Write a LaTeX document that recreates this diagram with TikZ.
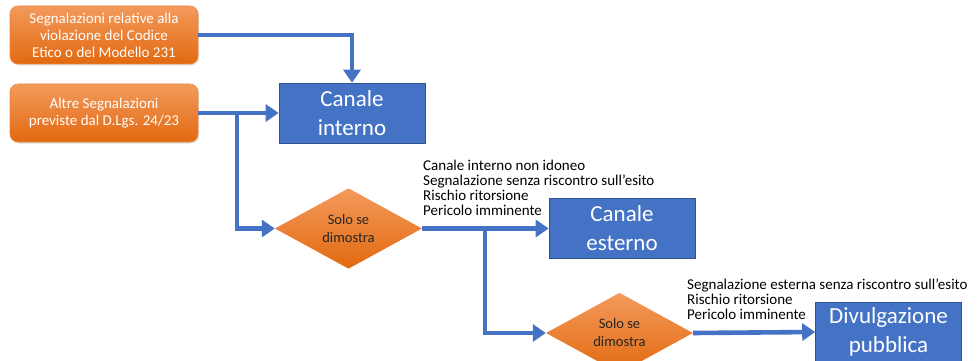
\documentclass[tikz,border=0pt]{standalone}
\usepackage{fontspec}
\setmainfont{Carlito}
\usepackage{xcolor}
\usepackage{tikz}
\usetikzlibrary{positioning,calc,shapes.geometric,arrows.meta,shadows}

\definecolor{flussoblu}{HTML}{4472C4}
\definecolor{bordoblu}{HTML}{2F528F}
\definecolor{aranciochiaro}{HTML}{F39A5C}
\definecolor{aranciocupo}{HTML}{E2690F}

\begin{document}
\begin{tikzpicture}[x=1pt,y=-1pt,
	segbox/.style={rounded corners=8pt, top color=aranciochiaro, bottom color=aranciocupo,
		draw=aranciocupo!80!white, line width=0.6pt, text=white, align=center,
		minimum width=188pt, minimum height=58pt, inner sep=2pt,
		font=\fontsize{15}{17}\selectfont,
		drop shadow={opacity=0.25, shadow xshift=1.2pt, shadow yshift=-1.5pt}},
	canalebox/.style={fill=flussoblu, draw=bordoblu, line width=0.6pt, text=white, align=center,
		minimum width=146pt, minimum height=60pt, inner sep=2pt,
		font=\fontsize{23}{29}\selectfont},
	scelta/.style={diamond, top color=aranciochiaro, bottom color=aranciocupo,
		align=center, inner sep=0pt, minimum width=147pt, minimum height=54pt,
		font=\fontsize{14.5}{18}\selectfont, text=black!85},
	motivi/.style={align=left, inner sep=0pt, anchor=west,
		font=\fontsize{15}{15}\selectfont},
	flusso/.style={draw=flussoblu, line width=4.6pt,
		-{Triangle[length=13pt,width=17pt]}},
	]
	\useasboundingbox (0,0) rectangle (978,361);

	% segnalazioni
	\node[segbox] (segcod) at (104,35) {Segnalazioni relative alla\\violazione del Codice\\Etico o del Modello 231};
	\node[segbox] (segalt) at (104,113) {Altre Segnalazioni\\previste dal D.Lgs. 24/23};

	% canali
	\node[canalebox] (interno) at (352,113) {Canale\\interno};
	\node[canalebox] (esterno) at (622,228.5) {Canale\\esterno};
	\node[canalebox] (pubblica) at (888.5,332) {Divulgazione\\pubblica};

	% condizioni
	\node[scelta] (dim1) at (348.5,228.5) {Solo se\\dimostra};
	\node[scelta] (dim2) at (619.5,333) {Solo se\\dimostra};

	\node[motivi] (lblest) at (423,188) {Canale interno non idoneo\\Segnalazione senza riscontro sull'esito\\Rischio ritorsione\\Pericolo imminente};
	\node[motivi] (lblpub) at (687,299) {Segnalazione esterna senza riscontro sull'esito\\Rischio ritorsione\\Pericolo imminente};

	% frecce
	\coordinate (bivio1) at (237,113);
	\coordinate (bivio2) at (485,228.5);
	\draw[flusso] (segcod.east) -| (interno.north);
	\draw[flusso] (segalt.east) -- (interno.west);
	\draw[flusso] (bivio1) |- (dim1.west);
	\draw[flusso] (dim1.east) -- (esterno.west);
	\draw[flusso] (bivio2) |- (dim2.west);
	\draw[flusso] (dim2.east) -- (pubblica.west);
\end{tikzpicture}
\end{document}
